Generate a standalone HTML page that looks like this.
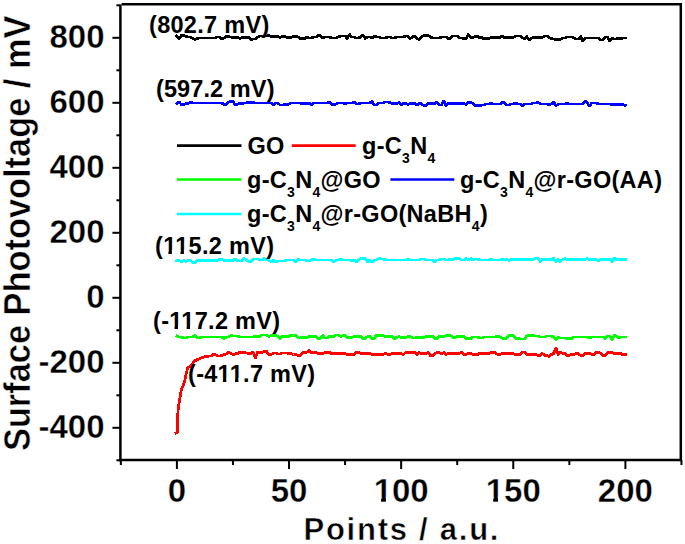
<!DOCTYPE html>
<html><head><meta charset="utf-8">
<style>
html,body{margin:0;padding:0;background:#fff;}
body{width:685px;height:544px;overflow:hidden;}
svg{display:block;}
text{font-family:"Liberation Sans",sans-serif;font-weight:bold;fill:#000;}
.tl{stroke:#fff;stroke-width:0.35px;}
.tl{font-size:33px;}
.ann{font-size:23.5px;letter-spacing:0.3px;}
.leg{font-size:23.5px;letter-spacing:0.3px;}
.sub{font-size:14px;}
</style></head><body>
<svg width="685" height="544" viewBox="0 0 685 544">
<g fill="none" stroke-width="2.8" stroke-linejoin="round" stroke-linecap="square" shape-rendering="crispEdges">
<polyline points="176.90,36.00 179.14,38.50 181.39,35.50 183.63,35.50 185.87,36.50 188.11,37.00 190.36,37.00 192.60,38.50 194.84,39.50 197.08,38.50 199.33,38.00 201.57,38.00 203.81,38.00 206.05,38.00 208.30,38.00 210.54,38.00 212.78,38.00 215.02,38.00 217.27,37.00 219.51,37.00 221.75,39.00 223.99,38.00 226.24,36.50 228.48,36.50 230.72,37.00 232.96,38.00 235.21,37.50 237.45,37.50 239.69,38.50 241.93,37.50 244.18,37.50 246.42,37.50 248.66,37.50 250.90,39.50 253.15,39.00 255.39,39.00 257.63,37.00 259.87,36.00 262.12,36.00 264.36,36.00 266.60,36.00 268.84,35.50 271.09,36.50 273.33,36.50 275.57,36.50 277.81,36.50 280.06,37.50 282.30,36.50 284.54,36.50 286.78,37.50 289.03,37.50 291.27,37.50 293.51,36.50 295.75,36.50 298.00,37.00 300.24,38.50 302.48,38.50 304.72,38.50 306.97,37.00 309.21,38.00 311.45,38.00 313.69,37.00 315.94,37.00 318.18,35.50 320.42,35.50 322.66,38.00 324.91,37.00 327.15,37.00 329.39,37.00 331.63,38.00 333.88,38.00 336.12,38.00 338.36,37.00 340.60,36.00 342.85,36.00 345.09,36.00 347.33,38.50 349.57,34.50 351.82,37.00 354.06,37.00 356.30,38.00 358.54,38.00 360.79,37.00 363.03,35.00 365.27,38.50 367.51,37.00 369.75,37.00 372.00,38.00 374.24,36.00 376.48,37.00 378.73,37.00 380.97,38.00 383.21,38.00 385.45,38.00 387.70,37.00 389.94,37.00 392.18,38.00 394.42,38.00 396.67,37.00 398.91,37.00 401.15,37.00 403.39,37.00 405.63,36.00 407.88,36.00 410.12,38.50 412.36,37.00 414.61,36.00 416.85,38.50 419.09,39.50 421.33,37.00 423.58,35.50 425.82,35.50 428.06,35.50 430.30,37.00 432.55,38.00 434.79,38.00 437.03,38.00 439.27,38.00 441.51,37.00 443.76,37.00 446.00,37.00 448.24,38.50 450.49,38.50 452.73,36.00 454.97,36.00 457.21,36.00 459.46,38.00 461.70,38.00 463.94,38.50 466.18,38.50 468.43,34.50 470.67,37.50 472.91,37.50 475.15,36.50 477.39,36.50 479.64,37.50 481.88,37.50 484.12,39.00 486.37,38.50 488.61,38.50 490.85,37.50 493.09,37.50 495.34,37.50 497.58,37.50 499.82,37.50 502.06,36.00 504.31,37.50 506.55,37.50 508.79,37.50 511.03,37.50 513.27,37.50 515.52,36.00 517.76,36.00 520.00,36.00 522.25,37.50 524.49,39.00 526.73,36.50 528.97,40.00 531.22,38.50 533.46,37.50 535.70,37.50 537.94,37.50 540.19,37.50 542.43,37.50 544.67,36.00 546.91,36.00 549.16,37.50 551.40,38.50 553.64,39.00 555.88,39.50 558.12,39.50 560.37,39.50 562.61,38.00 564.85,38.00 567.10,37.00 569.34,37.00 571.58,37.00 573.82,38.00 576.07,39.00 578.31,39.00 580.55,36.50 582.79,41.00 585.04,38.00 587.28,38.00 589.52,38.00 591.76,38.00 594.00,38.00 596.25,38.00 598.49,38.00 600.73,40.00 602.98,40.00 605.22,37.00 607.46,37.00 609.70,41.00 611.95,38.00 614.19,39.00 616.43,39.00 618.67,38.00 620.92,39.00 623.16,38.00 625.40,38.00" stroke="#000000"/>
<polyline points="176.10,433.00 177.20,432.40 177.60,424.00 178.00,411.00 178.50,406.50 179.50,401.00 180.50,395.00 181.20,390.50 182.70,386.60 184.90,380.00 186.30,372.90 187.80,367.80 189.60,366.70 191.90,364.90 194.10,361.20 197.00,359.70 200.70,358.20 203.60,357.10 207.30,356.20 211.70,356.00 212.78,354.50 215.02,354.50 217.27,356.00 219.51,356.00 221.75,355.50 223.99,354.50 226.24,354.00 228.48,352.50 230.72,353.50 232.96,354.50 235.21,354.00 237.45,353.50 239.69,352.50 241.93,352.00 244.18,352.50 246.42,353.00 248.66,353.50 250.90,353.50 253.15,352.00 255.39,358.00 257.63,352.00 259.87,352.50 262.12,352.50 264.36,351.50 266.60,351.50 268.84,354.50 271.09,354.50 273.33,353.00 275.57,353.00 277.81,354.00 280.06,354.00 282.30,353.00 284.54,353.00 286.78,353.00 289.03,354.00 291.27,353.50 293.51,354.50 295.75,354.50 298.00,355.50 300.24,355.50 302.48,352.50 304.72,352.50 306.97,352.00 309.21,350.50 311.45,352.50 313.69,352.50 315.94,352.50 318.18,353.50 320.42,353.50 322.66,353.50 324.91,352.50 327.15,352.50 329.39,352.50 331.63,353.50 333.88,353.50 336.12,353.50 338.36,353.50 340.60,353.50 342.85,353.50 345.09,353.50 347.33,354.50 349.57,354.50 351.82,354.50 354.06,354.50 356.30,352.50 358.54,352.50 360.79,353.50 363.03,353.50 365.27,353.50 367.51,353.50 369.75,353.50 372.00,354.50 374.24,354.50 376.48,354.50 378.73,354.50 380.97,354.50 383.21,354.50 385.45,353.50 387.70,354.50 389.94,354.50 392.18,353.50 394.42,353.50 396.67,353.50 398.91,353.50 401.15,353.50 403.39,354.50 405.63,352.50 407.88,352.50 410.12,352.50 412.36,352.50 414.61,352.50 416.85,354.50 419.09,352.50 421.33,353.50 423.58,353.50 425.82,353.50 428.06,352.50 430.30,355.50 432.55,355.50 434.79,353.50 437.03,352.50 439.27,352.50 441.51,353.50 443.76,352.50 446.00,354.50 448.24,353.50 450.49,353.50 452.73,353.50 454.97,353.50 457.21,353.50 459.46,353.50 461.70,352.00 463.94,355.00 466.18,354.50 468.43,353.50 470.67,353.50 472.91,354.50 475.15,354.50 477.39,354.50 479.64,353.50 481.88,353.50 484.12,353.50 486.37,353.50 488.61,353.50 490.85,352.50 493.09,352.50 495.34,352.50 497.58,354.50 499.82,354.50 502.06,353.50 504.31,353.50 506.55,353.50 508.79,353.50 511.03,353.50 513.27,353.50 515.52,354.50 517.76,354.50 520.00,354.50 522.25,352.00 524.49,352.00 526.73,354.50 528.97,354.50 531.22,354.50 533.46,354.50 535.70,354.50 537.94,355.50 540.19,355.50 542.43,353.50 544.67,355.50 546.91,355.50 549.16,356.50 551.40,354.50 553.64,353.50 555.88,348.00 558.12,354.50 560.37,352.00 562.61,353.50 564.85,353.50 567.10,355.50 569.34,355.50 571.58,354.50 573.82,354.50 576.07,353.50 578.31,353.50 580.55,355.50 582.79,355.50 585.04,353.50 587.28,353.50 589.52,353.50 591.76,354.50 594.00,354.50 596.25,352.50 598.49,352.50 600.73,353.50 602.98,355.50 605.22,355.50 607.46,352.50 609.70,352.50 611.95,352.50 614.19,353.50 616.43,353.50 618.67,353.50 620.92,353.50 623.16,355.00 625.40,354.50" stroke="#ff0000"/>
<polyline points="176.90,335.90 179.14,337.00 181.39,337.00 183.63,338.00 185.87,338.00 188.11,337.00 190.36,337.00 192.60,337.00 194.84,335.50 197.08,338.00 199.33,338.00 201.57,337.00 203.81,337.00 206.05,337.00 208.30,337.00 210.54,337.00 212.78,337.00 215.02,337.00 217.27,337.00 219.51,337.00 221.75,337.00 223.99,338.50 226.24,337.00 228.48,337.00 230.72,335.50 232.96,336.00 235.21,336.00 237.45,336.00 239.69,337.00 241.93,337.00 244.18,337.00 246.42,337.00 248.66,337.00 250.90,337.00 253.15,337.00 255.39,336.50 257.63,336.50 259.87,336.50 262.12,335.00 264.36,335.00 266.60,335.00 268.84,336.50 271.09,335.50 273.33,335.50 275.57,335.50 277.81,336.50 280.06,338.50 282.30,336.50 284.54,336.50 286.78,336.50 289.03,336.50 291.27,335.00 293.51,335.50 295.75,335.50 298.00,338.00 300.24,338.00 302.48,337.50 304.72,337.50 306.97,337.50 309.21,336.50 311.45,336.50 313.69,336.50 315.94,336.50 318.18,338.50 320.42,338.50 322.66,335.50 324.91,338.00 327.15,338.00 329.39,336.50 331.63,336.50 333.88,336.50 336.12,335.00 338.36,335.00 340.60,336.50 342.85,335.50 345.09,335.50 347.33,337.50 349.57,337.50 351.82,337.50 354.06,336.50 356.30,336.50 358.54,336.50 360.79,336.50 363.03,338.50 365.27,338.50 367.51,336.50 369.75,336.50 372.00,338.50 374.24,338.50 376.48,335.00 378.73,335.50 380.97,335.50 383.21,335.50 385.45,336.50 387.70,336.50 389.94,336.50 392.18,336.50 394.42,338.50 396.67,337.50 398.91,336.50 401.15,337.50 403.39,337.50 405.63,337.50 407.88,336.50 410.12,336.50 412.36,338.00 414.61,338.00 416.85,337.50 419.09,337.50 421.33,337.50 423.58,337.50 425.82,336.50 428.06,336.50 430.30,336.50 432.55,336.50 434.79,338.50 437.03,338.50 439.27,336.50 441.51,336.50 443.76,336.50 446.00,335.50 448.24,335.50 450.49,335.50 452.73,337.50 454.97,337.50 457.21,336.50 459.46,336.50 461.70,336.50 463.94,336.50 466.18,338.50 468.43,338.50 470.67,338.50 472.91,337.00 475.15,337.00 477.39,337.00 479.64,338.00 481.88,338.00 484.12,337.00 486.37,337.00 488.61,337.00 490.85,337.00 493.09,337.00 495.34,337.00 497.58,336.00 499.82,337.00 502.06,338.00 504.31,338.50 506.55,338.50 508.79,335.50 511.03,335.50 513.27,335.50 515.52,338.50 517.76,338.50 520.00,339.00 522.25,339.00 524.49,339.00 526.73,336.00 528.97,335.50 531.22,335.50 533.46,335.50 535.70,336.00 537.94,336.00 540.19,337.00 542.43,337.00 544.67,337.00 546.91,336.00 549.16,336.00 551.40,336.00 553.64,337.00 555.88,339.50 558.12,337.00 560.37,338.00 562.61,338.00 564.85,338.00 567.10,338.50 569.34,338.50 571.58,338.50 573.82,337.00 576.07,337.00 578.31,337.00 580.55,337.00 582.79,337.00 585.04,337.00 587.28,337.00 589.52,338.00 591.76,337.00 594.00,337.00 596.25,337.00 598.49,337.00 600.73,337.00 602.98,337.00 605.22,338.50 607.46,336.00 609.70,336.00 611.95,339.50 614.19,335.50 616.43,336.00 618.67,338.00 620.92,337.00 623.16,337.00 625.40,337.00" stroke="#00ff00"/>
<polyline points="176.90,103.60 179.14,102.00 181.39,104.50 183.63,104.50 185.87,103.50 188.11,103.50 190.36,102.00 192.60,103.00 194.84,103.00 197.08,103.00 199.33,103.00 201.57,103.00 203.81,103.00 206.05,103.00 208.30,103.00 210.54,103.00 212.78,103.00 215.02,103.00 217.27,103.00 219.51,103.00 221.75,103.00 223.99,104.50 226.24,104.50 228.48,102.00 230.72,101.50 232.96,101.50 235.21,104.50 237.45,104.50 239.69,103.00 241.93,104.00 244.18,103.00 246.42,103.00 248.66,102.00 250.90,103.00 253.15,102.00 255.39,103.00 257.63,103.00 259.87,103.00 262.12,103.00 264.36,103.00 266.60,103.00 268.84,103.00 271.09,103.00 273.33,105.00 275.57,103.00 277.81,103.00 280.06,105.00 282.30,105.00 284.54,104.50 286.78,104.50 289.03,104.00 291.27,103.00 293.51,103.00 295.75,103.00 298.00,103.00 300.24,103.00 302.48,104.00 304.72,103.00 306.97,104.00 309.21,103.00 311.45,105.00 313.69,103.00 315.94,103.00 318.18,103.00 320.42,103.00 322.66,103.00 324.91,103.00 327.15,103.00 329.39,102.00 331.63,104.50 333.88,104.50 336.12,104.00 338.36,103.00 340.60,103.00 342.85,103.00 345.09,104.00 347.33,103.00 349.57,103.00 351.82,103.00 354.06,102.00 356.30,104.00 358.54,104.00 360.79,103.00 363.03,103.00 365.27,103.00 367.51,103.00 369.75,103.00 372.00,101.50 374.24,105.00 376.48,105.00 378.73,103.00 380.97,103.00 383.21,103.00 385.45,102.00 387.70,102.00 389.94,102.50 392.18,103.50 394.42,103.50 396.67,103.50 398.91,102.50 401.15,105.00 403.39,103.50 405.63,103.50 407.88,104.50 410.12,103.50 412.36,103.50 414.61,103.50 416.85,105.00 419.09,103.50 421.33,103.50 423.58,105.50 425.82,105.50 428.06,103.50 430.30,103.50 432.55,103.50 434.79,103.50 437.03,102.00 439.27,105.00 441.51,105.00 443.76,101.00 446.00,105.50 448.24,103.50 450.49,103.50 452.73,103.50 454.97,103.50 457.21,103.50 459.46,103.50 461.70,103.50 463.94,103.50 466.18,104.50 468.43,102.50 470.67,102.50 472.91,103.50 475.15,105.50 477.39,105.50 479.64,105.50 481.88,105.00 484.12,105.00 486.37,104.00 488.61,104.00 490.85,103.00 493.09,104.00 495.34,104.00 497.58,104.00 499.82,104.00 502.06,102.50 504.31,102.50 506.55,105.00 508.79,105.00 511.03,104.00 513.27,104.00 515.52,103.00 517.76,104.00 520.00,104.00 522.25,106.00 524.49,104.00 526.73,104.00 528.97,104.00 531.22,104.00 533.46,103.00 535.70,103.00 537.94,102.00 540.19,104.00 542.43,104.00 544.67,104.00 546.91,104.00 549.16,105.00 551.40,104.00 553.64,102.00 555.88,106.00 558.12,104.00 560.37,104.00 562.61,104.00 564.85,104.00 567.10,103.00 569.34,104.00 571.58,104.00 573.82,104.00 576.07,104.00 578.31,104.00 580.55,104.00 582.79,104.00 585.04,101.00 587.28,103.00 589.52,106.00 591.76,103.00 594.00,103.00 596.25,103.00 598.49,104.00 600.73,104.00 602.98,104.00 605.22,104.00 607.46,104.00 609.70,104.00 611.95,104.50 614.19,104.50 616.43,104.50 618.67,104.50 620.92,104.50 623.16,104.50 625.40,105.50" stroke="#0000ff"/>
<polyline points="176.90,260.40 179.14,260.50 181.39,262.00 183.63,260.50 185.87,261.50 188.11,260.50 190.36,260.50 192.60,262.50 194.84,262.50 197.08,260.50 199.33,260.50 201.57,260.50 203.81,260.50 206.05,260.50 208.30,260.50 210.54,260.50 212.78,260.50 215.02,260.50 217.27,260.50 219.51,259.50 221.75,259.50 223.99,260.50 226.24,260.50 228.48,260.50 230.72,260.50 232.96,260.50 235.21,259.00 237.45,260.50 239.69,261.00 241.93,261.00 244.18,258.50 246.42,260.00 248.66,261.50 250.90,261.50 253.15,259.00 255.39,259.00 257.63,259.00 259.87,260.00 262.12,260.00 264.36,258.50 266.60,260.00 268.84,260.00 271.09,262.00 273.33,260.00 275.57,262.00 277.81,261.00 280.06,261.00 282.30,261.00 284.54,261.00 286.78,260.00 289.03,260.00 291.27,260.00 293.51,260.00 295.75,262.00 298.00,259.00 300.24,260.00 302.48,260.00 304.72,260.00 306.97,261.00 309.21,261.00 311.45,260.00 313.69,259.00 315.94,260.00 318.18,260.00 320.42,260.00 322.66,260.00 324.91,260.00 327.15,260.00 329.39,260.00 331.63,260.00 333.88,262.00 336.12,260.00 338.36,260.00 340.60,259.00 342.85,260.00 345.09,260.00 347.33,260.00 349.57,260.00 351.82,261.00 354.06,260.00 356.30,262.00 358.54,260.00 360.79,258.50 363.03,258.50 365.27,258.50 367.51,262.00 369.75,260.00 372.00,262.00 374.24,260.00 376.48,260.00 378.73,258.50 380.97,259.00 383.21,259.00 385.45,260.00 387.70,260.00 389.94,260.00 392.18,260.00 394.42,260.00 396.67,260.00 398.91,260.00 401.15,260.00 403.39,260.00 405.63,260.00 407.88,259.00 410.12,260.00 412.36,260.00 414.61,260.00 416.85,260.00 419.09,260.00 421.33,259.00 423.58,259.00 425.82,260.00 428.06,260.00 430.30,260.00 432.55,260.00 434.79,262.00 437.03,260.00 439.27,260.00 441.51,259.00 443.76,259.00 446.00,260.00 448.24,260.00 450.49,259.00 452.73,260.00 454.97,258.50 457.21,258.50 459.46,258.50 461.70,260.00 463.94,260.00 466.18,258.50 468.43,260.00 470.67,258.50 472.91,260.00 475.15,259.00 477.39,259.00 479.64,260.00 481.88,260.00 484.12,260.00 486.37,260.00 488.61,260.00 490.85,259.00 493.09,260.00 495.34,260.00 497.58,260.00 499.82,260.00 502.06,259.00 504.31,260.00 506.55,259.50 508.79,260.50 511.03,259.50 513.27,259.50 515.52,259.50 517.76,259.50 520.00,259.50 522.25,259.50 524.49,259.50 526.73,259.50 528.97,259.50 531.22,259.50 533.46,259.50 535.70,258.00 537.94,258.00 540.19,261.50 542.43,259.50 544.67,259.50 546.91,259.50 549.16,259.50 551.40,259.50 553.64,258.50 555.88,261.50 558.12,259.50 560.37,261.50 562.61,259.50 564.85,258.50 567.10,259.50 569.34,259.50 571.58,259.50 573.82,259.50 576.07,259.50 578.31,259.50 580.55,259.50 582.79,259.50 585.04,259.50 587.28,258.50 589.52,259.50 591.76,259.50 594.00,259.50 596.25,259.50 598.49,260.50 600.73,259.50 602.98,259.50 605.22,259.50 607.46,259.50 609.70,259.50 611.95,261.50 614.19,258.00 616.43,259.50 618.67,259.50 620.92,259.50 623.16,259.50 625.40,259.50" stroke="#00ffff"/>
</g>
<!-- frame -->
<g stroke="#000" stroke-width="2.5" fill="none">
<line x1="121.6" y1="4.2" x2="682.0" y2="4.2"/>
<line x1="120.4" y1="4.6" x2="120.4" y2="461.2"/>
<line x1="119.2" y1="460.0" x2="682.0" y2="460.0"/>
<line x1="680.8" y1="3.0" x2="680.8" y2="461.2"/>
</g>
<g stroke="#000" stroke-width="2">
<line x1="116.4" y1="460.30" x2="120.4" y2="460.30"/>
<line x1="112.4" y1="427.80" x2="120.4" y2="427.80"/>
<line x1="116.4" y1="395.30" x2="120.4" y2="395.30"/>
<line x1="112.4" y1="362.80" x2="120.4" y2="362.80"/>
<line x1="116.4" y1="330.30" x2="120.4" y2="330.30"/>
<line x1="112.4" y1="297.80" x2="120.4" y2="297.80"/>
<line x1="116.4" y1="265.30" x2="120.4" y2="265.30"/>
<line x1="112.4" y1="232.80" x2="120.4" y2="232.80"/>
<line x1="116.4" y1="200.30" x2="120.4" y2="200.30"/>
<line x1="112.4" y1="167.80" x2="120.4" y2="167.80"/>
<line x1="116.4" y1="135.30" x2="120.4" y2="135.30"/>
<line x1="112.4" y1="102.80" x2="120.4" y2="102.80"/>
<line x1="116.4" y1="70.30" x2="120.4" y2="70.30"/>
<line x1="112.4" y1="37.80" x2="120.4" y2="37.80"/>
<line x1="116.4" y1="5.30" x2="120.4" y2="5.30"/>
<line x1="120.84" y1="460.0" x2="120.84" y2="465.0"/>
<line x1="176.90" y1="460.0" x2="176.90" y2="469.0"/>
<line x1="232.96" y1="460.0" x2="232.96" y2="465.0"/>
<line x1="289.03" y1="460.0" x2="289.03" y2="469.0"/>
<line x1="345.09" y1="460.0" x2="345.09" y2="465.0"/>
<line x1="401.15" y1="460.0" x2="401.15" y2="469.0"/>
<line x1="457.21" y1="460.0" x2="457.21" y2="465.0"/>
<line x1="513.27" y1="460.0" x2="513.27" y2="469.0"/>
<line x1="569.34" y1="460.0" x2="569.34" y2="465.0"/>
<line x1="625.40" y1="460.0" x2="625.40" y2="469.0"/>
<line x1="681.46" y1="460.0" x2="681.46" y2="465.0"/>
</g>
<!-- y tick labels -->
<g class="tl" text-anchor="end">
<text x="104.5" y="438.3">-400</text>
<text x="104.5" y="373.3">-200</text>
<text x="104.5" y="308.3">0</text>
<text x="104.5" y="243.3">200</text>
<text x="104.5" y="178.3">400</text>
<text x="104.5" y="113.3">600</text>
<text x="104.5" y="48.3">800</text>
</g>
<g class="tl" text-anchor="middle">
<text x="176.9" y="501.7">0</text>
<text x="289.0" y="501.7">50</text>
<text x="401.2" y="501.7">100</text>
<text x="513.3" y="501.7">150</text>
<text x="625.4" y="501.7">200</text>
</g>
<text x="0" y="0" transform="translate(30.3,233.3) rotate(-90)" text-anchor="middle" style="font-size:36px;stroke:#fff;stroke-width:0.5px" textLength="435.5" lengthAdjust="spacingAndGlyphs">Surface Photovoltage / mV</text>
<text x="303.5" y="539.6" style="font-size:31px;letter-spacing:1.75px;stroke:#fff;stroke-width:0.5px">Points / a.u.</text>
<!-- annotations -->
<g class="ann">
<text x="149" y="32.5">(802.7 mV)</text>
<text x="156" y="96.8" style="letter-spacing:0.1px">(597.2 mV)</text>
<text x="155" y="253.7">(115.2 mV)</text>
<text x="153" y="329.3">(-117.2 mV)</text>
<text x="188" y="381.9">(-411.7 mV)</text>
</g>
<!-- legend -->
<g stroke-width="2.6">
<line x1="177" y1="145.6" x2="241.5" y2="145.6" stroke="#000"/>
<line x1="291.8" y1="145.6" x2="355.7" y2="145.6" stroke="#ff0000"/>
<line x1="177" y1="179.5" x2="241.5" y2="179.5" stroke="#00ff00"/>
<line x1="390.4" y1="179.5" x2="454.3" y2="179.5" stroke="#0000ff"/>
<line x1="177" y1="214.0" x2="241.5" y2="214.0" stroke="#00ffff"/>
</g>
<g class="leg">
<text x="247.5" y="153.6">GO</text>
<text x="362" y="153.6">g-C<tspan class="sub" dy="9">3</tspan><tspan dy="-9">N</tspan><tspan class="sub" dy="9">4</tspan></text>
<text x="247" y="187.6">g-C<tspan class="sub" dy="9">3</tspan><tspan dy="-9">N</tspan><tspan class="sub" dy="9">4</tspan><tspan dy="-9">@GO</tspan></text>
<text x="460" y="187.6">g-C<tspan class="sub" dy="9">3</tspan><tspan dy="-9">N</tspan><tspan class="sub" dy="9">4</tspan><tspan dy="-9">@r-GO(AA)</tspan></text>
<text x="247" y="222.2">g-C<tspan class="sub" dy="9">3</tspan><tspan dy="-9">N</tspan><tspan class="sub" dy="9">4</tspan><tspan dy="-9">@r-GO(NaBH</tspan><tspan class="sub" dy="9">4</tspan><tspan dy="-9">)</tspan></text>
</g>
<g fill="#fff">
<rect x="374.33" y="496.42" width="6.76" height="6.58"/>
<rect x="385.94" y="496.42" width="6.27" height="6.58"/>
<rect x="486.43" y="496.42" width="6.76" height="6.58"/>
<rect x="498.04" y="496.42" width="6.27" height="6.58"/>
<rect x="163.59" y="249.94" width="4.82" height="5.06"/>
<rect x="171.87" y="249.94" width="4.46" height="5.06"/>
<rect x="175.66" y="249.94" width="4.82" height="5.06"/>
<rect x="183.93" y="249.94" width="4.46" height="5.06"/>
<rect x="169.72" y="325.54" width="4.82" height="5.06"/>
<rect x="177.99" y="325.54" width="4.46" height="5.06"/>
<rect x="181.78" y="325.54" width="4.82" height="5.06"/>
<rect x="190.05" y="325.54" width="4.46" height="5.06"/>
<rect x="218.08" y="378.14" width="4.82" height="5.06"/>
<rect x="226.35" y="378.14" width="4.46" height="5.06"/>
<rect x="230.16" y="378.14" width="4.82" height="5.06"/>
<rect x="238.43" y="378.14" width="4.46" height="5.06"/>
</g>
</svg>
</body></html>
